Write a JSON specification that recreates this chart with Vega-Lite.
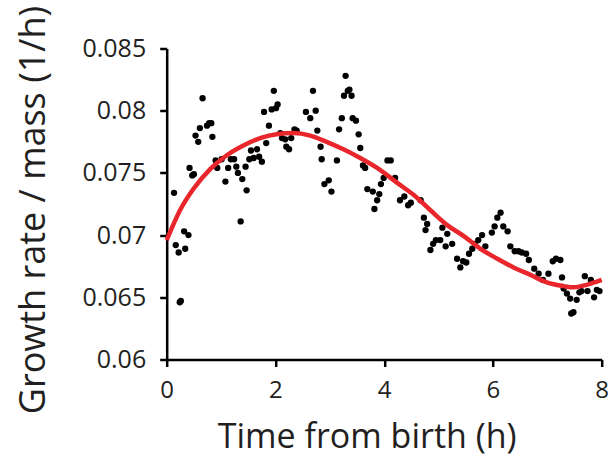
{
  "$schema": "https://vega.github.io/schema/vega-lite/v6.json",
  "autosize": "none",
  "width": 435,
  "height": 311,
  "padding": {"left": 166.7, "top": 48.5, "right": 12.3, "bottom": 97.5},
  "background": "white",
  "config": {
    "view": {"stroke": null},
    "font": "Open Sans",
    "axis": {"grid": false, "domainColor": "black", "domainWidth": 2.5, "tickColor": "black", "tickWidth": 2.5, "tickSize": 7, "labelColor": "#231f20", "titleColor": "#231f20", "labelFont": "Open Sans", "titleFont": "Open Sans", "labelFontWeight": "normal", "titleFontWeight": "normal"}
  },
  "datasets": {
    "pts": [
      {"t":0.135,"r":0.0734},{"t":0.166,"r":0.0692},{"t":0.22,"r":0.0686},{"t":0.26,"r":0.0647},{"t":0.24,"r":0.0646},
      {"t":0.32,"r":0.0703},{"t":0.40,"r":0.0700},{"t":0.34,"r":0.0689},{"t":0.42,"r":0.0754},{"t":0.47,"r":0.0748},
      {"t":0.50,"r":0.0749},{"t":0.53,"r":0.0780},{"t":0.58,"r":0.0775},{"t":0.61,"r":0.0786},{"t":0.66,"r":0.0810},
      {"t":0.74,"r":0.0788},{"t":0.78,"r":0.0790},{"t":0.82,"r":0.0790},{"t":0.84,"r":0.0779},{"t":0.90,"r":0.0760},
      {"t":0.93,"r":0.0754},{"t":1.01,"r":0.0761},{"t":1.08,"r":0.0743},{"t":1.13,"r":0.0754},{"t":1.18,"r":0.0761},
      {"t":1.24,"r":0.0761},{"t":1.28,"r":0.0755},{"t":1.31,"r":0.0750},{"t":1.36,"r":0.0711},{"t":1.39,"r":0.0745},
      {"t":1.45,"r":0.0755},{"t":1.47,"r":0.0736},{"t":1.52,"r":0.0761},{"t":1.55,"r":0.0768},{"t":1.60,"r":0.0762},
      {"t":1.66,"r":0.0769},{"t":1.70,"r":0.0763},{"t":1.75,"r":0.0759},{"t":1.79,"r":0.0799},{"t":1.83,"r":0.0774},
      {"t":1.88,"r":0.0788},{"t":1.93,"r":0.0801},{"t":1.97,"r":0.0816},{"t":2.01,"r":0.0802},{"t":2.04,"r":0.0805},
      {"t":2.09,"r":0.0782},{"t":2.12,"r":0.0778},{"t":2.18,"r":0.0777},{"t":2.20,"r":0.0771},{"t":2.25,"r":0.0769},
      {"t":2.29,"r":0.0778},{"t":2.35,"r":0.0785},{"t":2.39,"r":0.0784},{"t":2.56,"r":0.0799},{"t":2.64,"r":0.0794},
      {"t":2.69,"r":0.0816},{"t":2.74,"r":0.0800},{"t":2.77,"r":0.0784},{"t":2.83,"r":0.0771},{"t":2.85,"r":0.0761},
      {"t":2.90,"r":0.0741},{"t":2.98,"r":0.0744},{"t":3.03,"r":0.0735},{"t":3.13,"r":0.0760},{"t":3.17,"r":0.0785},
      {"t":3.22,"r":0.0794},{"t":3.26,"r":0.0812},{"t":3.29,"r":0.0828},{"t":3.33,"r":0.0816},{"t":3.36,"r":0.0817},
      {"t":3.40,"r":0.0812},{"t":3.42,"r":0.0794},{"t":3.48,"r":0.0792},{"t":3.53,"r":0.0781},{"t":3.56,"r":0.0770},
      {"t":3.61,"r":0.0756},{"t":3.65,"r":0.0754},{"t":3.69,"r":0.0737},{"t":3.79,"r":0.0735},{"t":3.82,"r":0.0721},
      {"t":3.87,"r":0.0728},{"t":3.91,"r":0.0733},{"t":3.94,"r":0.0741},{"t":3.99,"r":0.0746},{"t":4.06,"r":0.0760},
      {"t":4.12,"r":0.0760},{"t":4.20,"r":0.0746},{"t":4.29,"r":0.0728},{"t":4.37,"r":0.0731},{"t":4.44,"r":0.0724},
      {"t":4.49,"r":0.0726},{"t":4.67,"r":0.0728},{"t":4.73,"r":0.0714},{"t":4.79,"r":0.0709},{"t":4.76,"r":0.0704},
      {"t":4.85,"r":0.0688},{"t":4.90,"r":0.0693},{"t":4.95,"r":0.0696},{"t":5.03,"r":0.0696},{"t":5.07,"r":0.0706},
      {"t":5.13,"r":0.0691},{"t":5.16,"r":0.0701},{"t":5.25,"r":0.0693},{"t":5.34,"r":0.0681},{"t":5.40,"r":0.0674},
      {"t":5.45,"r":0.0679},{"t":5.51,"r":0.0678},{"t":5.56,"r":0.0685},{"t":5.62,"r":0.0689},{"t":5.67,"r":0.0693},
      {"t":5.73,"r":0.0696},{"t":5.80,"r":0.0700},{"t":5.86,"r":0.0691},{"t":5.98,"r":0.0702},{"t":6.03,"r":0.0707},
      {"t":6.08,"r":0.0714},{"t":6.14,"r":0.0718},{"t":6.19,"r":0.0707},{"t":6.27,"r":0.0703},{"t":6.32,"r":0.0691},
      {"t":6.40,"r":0.0687},{"t":6.47,"r":0.0687},{"t":6.53,"r":0.0686},{"t":6.61,"r":0.0685},{"t":6.66,"r":0.0680},
      {"t":6.76,"r":0.0673},{"t":6.84,"r":0.0669},{"t":6.92,"r":0.0664},{"t":7.02,"r":0.0669},{"t":7.10,"r":0.0679},
      {"t":7.16,"r":0.0681},{"t":7.24,"r":0.0680},{"t":7.27,"r":0.0666},{"t":7.30,"r":0.0657},{"t":7.36,"r":0.0653},
      {"t":7.42,"r":0.0649},{"t":7.48,"r":0.0638},{"t":7.44,"r":0.0637},{"t":7.54,"r":0.0648},{"t":7.59,"r":0.0654},
      {"t":7.63,"r":0.0655},{"t":7.69,"r":0.0667},{"t":7.74,"r":0.0655},{"t":7.80,"r":0.0664},{"t":7.86,"r":0.0650},
      {"t":7.91,"r":0.0656},{"t":7.96,"r":0.0655}
    ],
    "fit": [
      {"t":0.0,"r":0.0696},{"t":0.245,"r":0.0720},{"t":0.49,"r":0.0737},{"t":0.80,"r":0.0753},{"t":1.10,"r":0.0764},
      {"t":1.41,"r":0.0772},{"t":1.72,"r":0.0778},{"t":2.02,"r":0.0781},{"t":2.33,"r":0.0782},{"t":2.64,"r":0.0780},
      {"t":2.94,"r":0.0775},{"t":3.25,"r":0.0769},{"t":3.56,"r":0.0762},{"t":3.87,"r":0.0754},{"t":4.24,"r":0.0742},
      {"t":4.55,"r":0.0732},{"t":4.85,"r":0.0720},{"t":5.16,"r":0.0708},{"t":5.47,"r":0.0699},{"t":5.77,"r":0.0689},
      {"t":6.08,"r":0.0681},{"t":6.38,"r":0.0674},{"t":6.69,"r":0.0668},{"t":6.99,"r":0.0662},{"t":7.30,"r":0.0659},
      {"t":7.48,"r":0.0658},{"t":7.72,"r":0.0660},{"t":8.0,"r":0.0664}
    ]
  },
  "layer": [
    {
      "data": {"name": "pts"},
      "mark": {"type": "circle", "color": "black", "opacity": 1, "size": 40},
      "encoding": {
        "x": {"field": "t", "type": "quantitative", "scale": {"domain": [0, 8], "nice": false, "zero": false},
          "axis": {"values": [0, 2, 4, 6, 8], "title": "Time from birth (h)", "labelFontSize": 24, "labelPadding": 12, "titleFontSize": 34, "titleX": 200, "titleY": 88, "titleAnchor": null, "titleAlign": "center", "titleBaseline": "alphabetic", "labelFlush": false}},
        "y": {"field": "r", "type": "quantitative", "scale": {"domain": [0.06, 0.085], "nice": false, "zero": false},
          "axis": {"values": [0.06, 0.065, 0.07, 0.075, 0.08, 0.085], "format": ".3~f", "title": "Growth rate / mass (1/h)", "labelFontSize": 25, "labelPadding": 14, "titleFontSize": 36, "titleX": -122, "titleY": 161, "titleAngle": -90, "titleAlign": "center", "titleBaseline": "alphabetic", "labelFlush": false}}
      }
    },
    {
      "data": {"name": "fit"},
      "mark": {"type": "line", "color": "#e8262b", "strokeWidth": 4.5, "interpolate": "monotone"},
      "encoding": {
        "x": {"field": "t", "type": "quantitative"},
        "y": {"field": "r", "type": "quantitative"}
      }
    }
  ]
}
